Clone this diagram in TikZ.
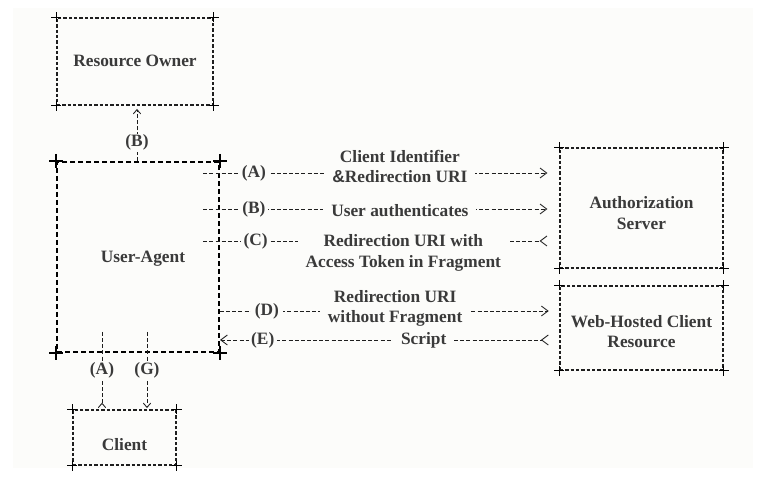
\documentclass[tikz,border=0pt]{standalone}
\usepackage{fontspec}
\setmainfont{Liberation Serif}
\setsansfont{Liberation Sans}
\usepackage{xcolor}
\usepackage{tikz}
\usetikzlibrary{arrows.meta}

\definecolor{paper}{RGB}{252,252,250}
\definecolor{ink}{RGB}{58,58,58}
\definecolor{edge}{RGB}{30,30,30}

\begin{document}
\begin{tikzpicture}[x=0.75pt, y=-0.75pt,
    every node/.style={font=\fontsize{13}{15.5}\selectfont\bfseries, text=ink},
    box/.style={draw=edge, line width=0.9pt, dash pattern=on 2.6pt off 1.4pt, inner sep=0pt},
    agentbox/.style={draw=black, line width=1.5pt, dash pattern=on 4pt off 2pt, inner sep=0pt},
    boxtext/.style={align=center},
    cornermark/.style={draw=black, line width=1.1pt, solid},
    flow/.style={draw=edge, line width=0.65pt, dash pattern=on 3pt off 1.6pt},
    barb/.tip={Straight Barb[length=5pt, width=7.5pt]},
    smallbarb/.tip={Straight Barb[length=3.2pt, width=5.5pt]},
    tag/.style={fill=paper, inner xsep=2pt, inner ysep=1pt},
    msgtext/.style={fill=paper, align=center, inner xsep=6pt, inner ysep=0.5pt}
]
    % Paper
    \fill[paper] (13,8) rectangle (753,468);
    \useasboundingbox (0,0) rectangle (772,484);

    % Boxes
    \node[box, minimum width=117pt, minimum height=65.25pt] (ro) at (135,61.5) {};
    \node[agentbox, minimum width=121.5pt, minimum height=142.5pt] (ua) at (138,257) {};
    \node[box, minimum width=77.25pt, minimum height=41.25pt] (cl) at (124.5,437.5) {};
    \node[box, minimum width=122.25pt, minimum height=90pt] (as) at (641.5,208) {};
    \node[box, minimum width=122.25pt, minimum height=63pt] (wc) at (641.5,328) {};

    % Box texts
    \node[boxtext] (ro-t) at ([shift={(0,-1)}]ro.center) {Resource Owner};
    \node[boxtext] (ua-t) at ([shift={(5,2)}]ua.center) {User-Agent};
    \node[boxtext] (cl-t) at ([shift={(0,7.5)}]cl.center) {Client};
    \node[boxtext] (as-t) at ([shift={(0,5)}]as.center) {Authorization\\Server};
    \node[boxtext] (wc-t) at ([shift={(0,3.5)}]wc.center) {Web-Hosted Client\\Resource};

    % Corner marks
    \foreach \b in {ro,as,wc,cl}
      \foreach \c in {north west,north east,south west,south east}
        \draw[cornermark] (\b.\c) +(-5,0) -- +(5,0) +(0,-5) -- +(0,5);
    \foreach \c in {north west,north east,south west,south east}
      \draw[cornermark, line width=1.8pt] (ua.\c) +(-7,0) -- +(7,0) +(0,-7) -- +(0,7);

    % Rows and columns of the flows
    \coordinate (yA) at (0,173);
    \coordinate (yB) at (0,209);
    \coordinate (yC) at (0,241);
    \coordinate (yD) at (0,311);
    \coordinate (yE) at (0,340);
    \coordinate (xB) at (137,0);
    \coordinate (xA) at (102,0);
    \coordinate (xG) at (147,0);

    % User-Agent <-> Authorization Server
    \draw[flow, -barb, shorten <=-12.5pt, shorten >=9pt] (ua.east |- yA) -- (as.west |- yA)
      node[tag, pos=.10] {(A)}
      node[msgtext, pos=.53, yshift=4.9pt] {Client Identifier\\\textsf{\&}Redirection URI};
    \draw[flow, -barb, shorten <=-12.5pt, shorten >=9pt] (ua.east |- yB) -- (as.west |- yB)
      node[tag, pos=.10] {(B)}
      node[msgtext, pos=.53, yshift=-1.5pt] {User authenticates};
    \draw[flow, -{barb[reversed]}, shorten <=-12.5pt, shorten >=9pt] (ua.east |- yC) -- (as.west |- yC)
      node[tag, pos=.105] {(C)}
      node[msgtext, pos=.54, yshift=-9pt] {Redirection URI with\\Access Token in Fragment};

    % User-Agent <-> Web-Hosted Client Resource
    \draw[flow, -barb, shorten >=8pt] (ua.east |- yD) -- (wc.west |- yD)
      node[tag, pos=.138, inner xsep=3pt] {(D)}
      node[msgtext, pos=.516, yshift=2pt] {Redirection URI\\without Fragment};
    \draw[flow, {barb}-{barb[reversed]}, shorten >=8pt] (ua.east |- yE) -- (wc.west |- yE)
      node[tag, pos=.126] {(E)}
      node[msgtext, pos=.60] {Script};

    % Resource Owner and Client
    \draw[flow, -smallbarb, shorten >=2.5pt] (ua.north -| xB) -- (ro.south -| xB)
      node[tag, pos=.33] {(B)};
    \draw[flow, -{smallbarb[reversed]}, shorten <=-15.75pt, shorten >=1pt] (ua.south -| xA) -- (cl.north -| xA)
      node[tag, pos=.31] {(A)};
    \draw[flow, -smallbarb, shorten <=-15.75pt, shorten >=1pt] (ua.south -| xG) -- (cl.north -| xG)
      node[tag, pos=.31] {(G)};
\end{tikzpicture}
\end{document}
